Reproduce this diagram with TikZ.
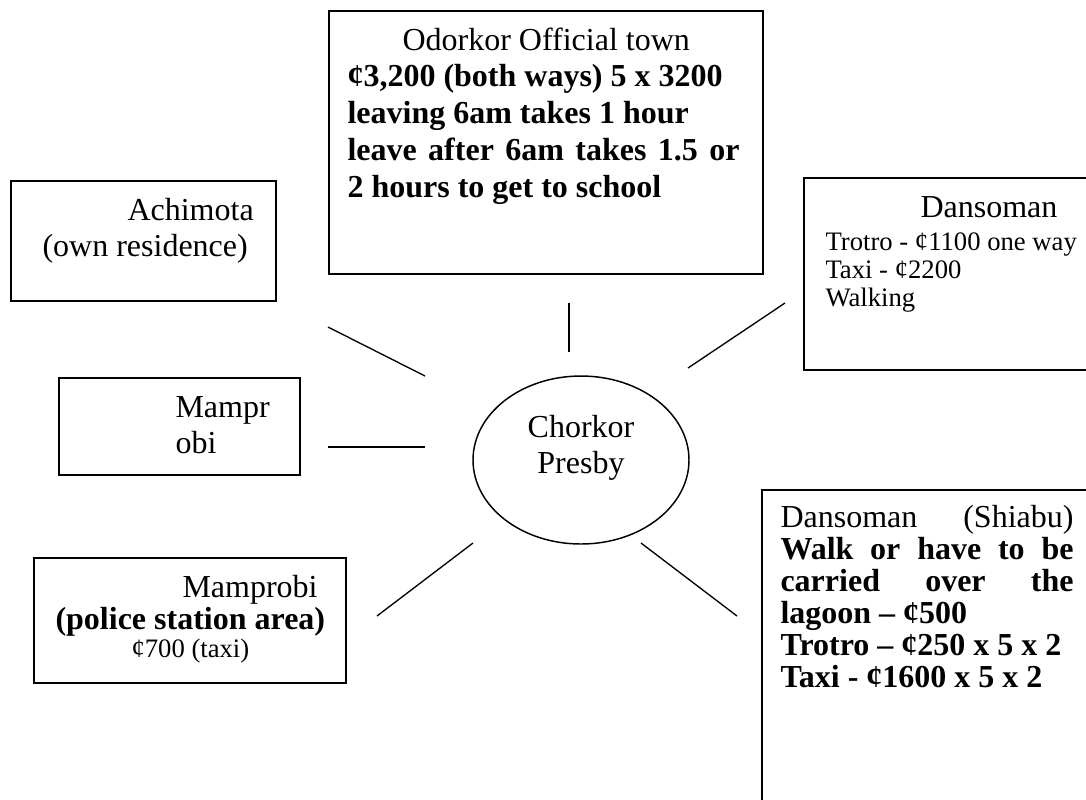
\documentclass[tikz,border=0pt]{standalone}
\usepackage{fontspec}
\setmainfont{Liberation Serif}
\usetikzlibrary{shapes.geometric}
% one drawing unit = one pixel of the layout grid
\newdimen\pxu \pxu=0.375pt
\newcommand{\sizeA}{\fontsize{12}{13.8}\selectfont}
\newcommand{\sizeAtight}{\fontsize{12}{12}\selectfont}
\newcommand{\sizeB}{\fontsize{10}{10.5}\selectfont}
\tikzset{
  frame/.style={draw, line width=0.6pt, inner sep=0pt, anchor=north west},
  txt/.style={inner sep=0pt, anchor=base west},
  spoke/.style={line width=0.5pt},
  hubshape/.style={draw, ellipse, line width=0.55pt, inner sep=0pt},
}
\begin{document}
\begin{tikzpicture}[x=0.375pt, y=-0.375pt]
\useasboundingbox (0,0) rectangle (1086,799);
\fill[white] (0,0) rectangle (1086,799);
\begin{scope}
\clip (0,0) rectangle (1086,799);

% ---- boxes ----
\node[frame, minimum width=434\pxu, minimum height=263\pxu] (odorkorbox) at (328,10) {};
\node[frame, minimum width=265\pxu, minimum height=120\pxu] (achimotabox) at (10,180) {};
\node[frame, minimum width=241\pxu, minimum height=97\pxu] (mamprbox) at (58,377) {};
\node[frame, minimum width=300\pxu, minimum height=192\pxu] (dansomanbox) at (803,177) {};
\node[frame, minimum width=312\pxu, minimum height=125\pxu] (policebox) at (33,557) {};
\node[frame, minimum width=340\pxu, minimum height=340\pxu] (shiabubox) at (761,489) {};

% ---- centre ----
\node[hubshape, minimum width=216\pxu, minimum height=168\pxu] (hub) at (581,460) {};
\node[inner sep=0pt, anchor=base] (hublabel) at (581,437)
  {\sizeA\begin{tabular}[t]{@{}c@{}}Chorkor\\Presby\end{tabular}};

% ---- box texts ----
\node[txt] (odorkortext) at (347,50) {\sizeA\begin{tabular}[t]{@{}l@{}}
  \hspace*{55\pxu}Odorkor Official town\\
  \textbf{¢3,200 (both ways) 5 x 3200}\\
  \textbf{leaving 6am takes 1 hour}\\
  \makebox[392\pxu][s]{\textbf{leave after 6am takes 1.5 or}}\\
  \textbf{2 hours to get to school}
\end{tabular}};

\node[txt] (achimotatext) at (42,220) {\sizeA\begin{tabular}[t]{@{}l@{}}
  \hspace*{85\pxu}Achimota\\
  (own residence)
\end{tabular}};

\node[txt] (mamprtext) at (175,417) {\sizeA\begin{tabular}[t]{@{}l@{}}
  Mampr\\
  obi
\end{tabular}};

\node[txt] (dansomantext) at (825,217) {\sizeB\begin{tabular}[t]{@{}l@{}}
  \hspace*{95\pxu}{\sizeA Dansoman}\\[1.9pt]
  Trotro - ¢1100 one way\\
  Taxi - ¢2200\\
  Walking
\end{tabular}};

\node[txt] (policetext) at (55,597) {\sizeAtight\begin{tabular}[t]{@{}l@{}}
  \hspace*{127\pxu}Mamprobi\\
  \textbf{(police station area)}\\[-1.5pt]
  {\sizeB\hspace*{76\pxu}¢700 (taxi)}
\end{tabular}};

\node[txt] (shiabutext) at (780,527) {\sizeAtight\begin{tabular}[t]{@{}l@{}}
  \makebox[293\pxu][s]{Dansoman (Shiabu)}\\
  \makebox[293\pxu][s]{\textbf{Walk or have to be}}\\
  \makebox[293\pxu][s]{\textbf{carried over the}}\\
  \textbf{lagoon – ¢500}\\
  \textbf{Trotro – ¢250 x 5 x 2}\\
  \textbf{Taxi - ¢1600 x 5 x 2}
\end{tabular}};

% ---- spokes ----
\coordinate (s1a) at (328,327); \coordinate (s1b) at (425,376);
\coordinate (s2a) at (328,447); \coordinate (s2b) at (425,447);
\coordinate (s3a) at (569,303); \coordinate (s3b) at (569,352);
\coordinate (s4a) at (785,303); \coordinate (s4b) at (688,368);
\coordinate (s5a) at (377,616); \coordinate (s5b) at (473,543);
\coordinate (s6a) at (737,616); \coordinate (s6b) at (641,543);
\draw[spoke] (s1a) -- (s1b);
\draw[spoke] (s2a) -- (s2b);
\draw[spoke] (s3a) -- (s3b);
\draw[spoke] (s4a) -- (s4b);
\draw[spoke] (s5a) -- (s5b);
\draw[spoke] (s6a) -- (s6b);
\end{scope}
\end{tikzpicture}
\end{document}
